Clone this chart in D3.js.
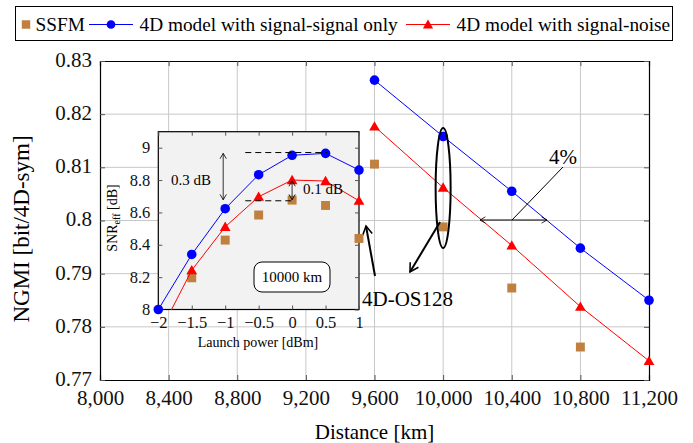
<!DOCTYPE html>
<html>
<head>
<meta charset="utf-8">
<script src="https://cdn.jsdelivr.net/npm/d3@7"></script>
<style>
  body { margin: 0; background: #fff; }
  svg, svg text { font-family: "Liberation Serif", "Times New Roman", Times, serif !important; }
</style>
</head>
<body>
<div class="chart"></div>
<script>
// main chart data: NGMI vs distance
var distances = [9600, 10000, 10400, 10800, 11200];
var ssfmNgmi = [0.8106, 0.7988, 0.7873, 0.7762, null];
var ssNgmi = [0.8264, 0.8158, 0.8055, 0.7948, 0.7850];
var snNgmi = [0.8177, 0.8062, 0.7953, 0.7838, 0.7736];
var xTicks = [8000, 8400, 8800, 9200, 9600, 10000, 10400, 10800, 11200];
var yTicks = [0.77, 0.78, 0.79, 0.80, 0.81, 0.82, 0.83];

// inset data: SNReff vs launch power at 10000 km
var powers = [-2, -1.5, -1, -0.5, 0, 0.5, 1];
var ssfmSnr = [null, 8.196, 8.429, 8.584, 8.676, 8.643, 8.439];
var ssSnr = [8.0, 8.34, 8.623, 8.833, 8.953, 8.965, 8.862];
var snSnr = [7.84, 8.243, 8.511, 8.697, 8.8, 8.794, 8.672];
var insetXTicks = [-2, -1.5, -1, -0.5, 0, 0.5, 1];
var insetYTicks = [8, 8.2, 8.4, 8.6, 8.8, 9];

var W = 693, H = 443;
var BROWN = '#bf8040', BLUE = '#0000ff', RED = '#ff0000';
var SERIF = '"Liberation Serif", "Times New Roman", Times, serif';

var svg = d3.select('.chart').append('svg')
  .attr('width', W).attr('height', H)
  .attr('font-family', SERIF);

var defs = svg.append('defs');
defs.append('clipPath').attr('id', 'mainClip')
  .append('rect').attr('x', 100).attr('y', 61).attr('width', 549).attr('height', 319);
defs.append('clipPath').attr('id', 'insetClip')
  .append('rect').attr('x', 158).attr('y', 131).attr('width', 201).attr('height', 179);
defs.append('marker').attr('id', 'arrowHead')
  .attr('viewBox', '0 0 10 10').attr('refX', 8).attr('refY', 5)
  .attr('markerWidth', 6).attr('markerHeight', 6).attr('orient', 'auto-start-reverse')
  .append('path').attr('d', 'M1,1 L8,5 L1,9').attr('fill', 'none').attr('stroke', '#000').attr('stroke-width', 1.3);
defs.append('marker').attr('id', 'thinHead')
  .attr('viewBox', '0 0 10 10').attr('refX', 8).attr('refY', 5)
  .attr('markerWidth', 9).attr('markerHeight', 9).attr('orient', 'auto-start-reverse')
  .append('path').attr('d', 'M2,1.5 L8,5 L2,8.5').attr('fill', 'none').attr('stroke', '#000').attr('stroke-width', 0.9);

var x = d3.scaleLinear().domain([8000, 11200]).range([100, 649]);
var y = d3.scaleLinear().domain([0.77, 0.83]).range([380, 61]);

// grid
var grid = svg.append('g');
grid.selectAll('.vg').data(xTicks.slice(1, -1)).enter().append('line')
  .attr('x1', d => x(d)).attr('x2', d => x(d)).attr('y1', 61).attr('y2', 380)
  .attr('stroke', '#c8c8c8').attr('stroke-width', 1);
grid.selectAll('.hg').data(yTicks.slice(1, -1)).enter().append('line')
  .attr('y1', d => y(d)).attr('y2', d => y(d)).attr('x1', 100).attr('x2', 649)
  .attr('stroke', '#c8c8c8').attr('stroke-width', 1);

// axes
var fmt = d3.format(',');
var xAxis = svg.append('g').attr('transform', 'translate(0,380)')
  .call(d3.axisBottom(x).tickValues(xTicks).tickFormat(fmt).tickSize(-5).tickPadding(6));
var xAxisTop = svg.append('g').attr('transform', 'translate(0,61)')
  .call(d3.axisTop(x).tickValues(xTicks).tickFormat('').tickSize(-5));
var yAxis = svg.append('g').attr('transform', 'translate(100,0)')
  .call(d3.axisLeft(y).tickValues(yTicks).tickFormat(d => String(+d.toFixed(2))).tickSize(-5).tickPadding(8));
var yAxisR = svg.append('g').attr('transform', 'translate(649,0)')
  .call(d3.axisRight(y).tickValues(yTicks).tickFormat('').tickSize(-5));
[xAxis, xAxisTop, yAxis, yAxisR].forEach(function(a){
  a.attr('font-family', SERIF);
  a.select('.domain').attr('stroke', '#000').attr('stroke-width', 1.2);
  a.selectAll('.tick line').attr('stroke', '#555');
  a.selectAll('text').attr('font-size', 21).attr('fill', '#111');
});
xAxis.selectAll('text').attr('dy', '0.9em');
yAxis.selectAll('text').attr('dy', '0.26em');

svg.append('text').attr('x', 374.5).attr('y', 439).attr('text-anchor', 'middle')
  .attr('font-size', 21).text('Distance [km]');
svg.append('text').attr('transform', 'translate(29,229) rotate(-90)').attr('text-anchor', 'middle')
  .attr('font-size', 23).text('NGMI [bit/4D-sym]');

// markers
function drawSeries(g, xs, ys, sx, sy, color, shape, withLine, clip) {
  var pts = xs.map((d, i) => [d, ys[i]]).filter(p => p[1] != null);
  if (withLine) {
    g.append('path').datum(pts)
      .attr('clip-path', clip)
      .attr('d', d3.line().x(p => sx(p[0])).y(p => sy(p[1])))
      .attr('fill', 'none').attr('stroke', color).attr('stroke-width', 1);
  }
  var sym = d3.symbol().type(shape).size(shape === d3.symbolCircle ? 72 : (shape === d3.symbolTriangle ? 50 : 80));
  g.selectAll(null).data(pts.filter(p => sy(p[1]) <= sy.range()[0] + 0.5)).enter().append('path')
    .attr('d', sym)
    .attr('transform', p => 'translate(' + sx(p[0]) + ',' + (sy(p[1]) + (shape === d3.symbolTriangle ? 1 : 0)) + ')')
    .attr('fill', color);
}

var mainG = svg.append('g');
drawSeries(mainG, distances, ssfmNgmi, x, y, BROWN, d3.symbolSquare, false, 'url(#mainClip)');
drawSeries(mainG, distances, ssNgmi, x, y, BLUE, d3.symbolCircle, true, 'url(#mainClip)');
drawSeries(mainG, distances, snNgmi, x, y, RED, d3.symbolTriangle, true, 'url(#mainClip)');

// main annotations
svg.append('ellipse').attr('cx', x(10000)).attr('cy', 188).attr('rx', 7.5).attr('ry', 60)
  .attr('fill', 'none').attr('stroke', '#000').attr('stroke-width', 2);
svg.append('line').attr('x1', 440).attr('y1', 222).attr('x2', 410).attr('y2', 272)
  .attr('stroke', '#000').attr('stroke-width', 2).attr('marker-end', 'url(#arrowHead)');
svg.append('line').attr('x1', 375).attr('y1', 276).attr('x2', 366).attr('y2', 226)
  .attr('stroke', '#000').attr('stroke-width', 2).attr('marker-end', 'url(#arrowHead)');
svg.append('text').attr('x', 362).attr('y', 306).attr('font-size', 21).text('4D-OS128');

svg.append('line').attr('x1', 480).attr('y1', 220).attr('x2', 547).attr('y2', 220)
  .attr('stroke', '#000').attr('stroke-width', 1)
  .attr('marker-start', 'url(#thinHead)').attr('marker-end', 'url(#thinHead)');
svg.append('line').attr('x1', 512).attr('y1', 220).attr('x2', 563).attr('y2', 167)
  .attr('stroke', '#000').attr('stroke-width', 1);
svg.append('text').attr('x', 563).attr('y', 164).attr('text-anchor', 'middle').attr('font-size', 21).text('4%');

// inset
var ix = d3.scaleLinear().domain([-2, 1]).range([158.3, 359]);
var iy = d3.scaleLinear().domain([8, 9]).range([309.5, 147.7]);
var inset = svg.append('g');
inset.append('rect').attr('x', 158.3).attr('y', 131.7).attr('width', 200.7).attr('height', 177.8)
  .attr('fill', '#f2f2f2').attr('stroke', '#000').attr('stroke-width', 1.2);
var ixAxis = inset.append('g').attr('transform', 'translate(0,309.5)')
  .call(d3.axisBottom(ix).tickValues(insetXTicks).tickSize(-4).tickPadding(5)
    .tickFormat(d => d < 0 ? '\u2212' + Math.abs(d) : String(d)));
var iyAxis = inset.append('g').attr('transform', 'translate(158.3,0)')
  .call(d3.axisLeft(iy).tickValues(insetYTicks).tickSize(-4).tickPadding(8).tickFormat(d => String(+d.toFixed(1))));
var iyAxisR = inset.append('g').attr('transform', 'translate(359,0)')
  .call(d3.axisRight(iy).tickValues(insetYTicks).tickSize(-4).tickFormat(''));
var ixAxisT = inset.append('g').attr('transform', 'translate(0,131.7)')
  .call(d3.axisTop(ix).tickValues(insetXTicks).tickSize(-4).tickFormat(''));
[ixAxis, iyAxis, iyAxisR, ixAxisT].forEach(function(a){
  a.attr('font-family', SERIF);
  a.select('.domain').remove();
  a.selectAll('.tick line').attr('stroke', '#555');
  a.selectAll('text').attr('font-size', 16.5).attr('fill', '#111');
});
ixAxis.selectAll('text').attr('dy', '0.8em');
iyAxis.selectAll('text').attr('dy', '0.3em');

inset.append('text').attr('x', 258).attr('y', 347).attr('text-anchor', 'middle')
  .attr('font-size', 14).text('Launch power [dBm]');
var snrLabel = inset.append('text').attr('transform', 'translate(117,218) rotate(-90)')
  .attr('text-anchor', 'middle').attr('font-size', 14);
snrLabel.append('tspan').text('SNR');
snrLabel.append('tspan').attr('font-size', 10).attr('dy', 3).text('eff');
snrLabel.append('tspan').attr('dy', -3).text(' [dB]');

drawSeries(inset, powers, ssfmSnr, ix, iy, BROWN, d3.symbolSquare, false, 'url(#insetClip)');
drawSeries(inset, powers, ssSnr, ix, iy, BLUE, d3.symbolCircle, true, 'url(#insetClip)');
drawSeries(inset, powers, snSnr, ix, iy, RED, d3.symbolTriangle, true, 'url(#insetClip)');

// inset annotations
inset.append('line').attr('x1', ix(-0.7)).attr('x2', ix(0.52)).attr('y1', iy(8.97)).attr('y2', iy(8.97))
  .attr('stroke', '#000').attr('stroke-dasharray', '6,4').attr('stroke-width', 1);
inset.append('line').attr('x1', ix(-0.7)).attr('x2', ix(0)).attr('y1', iy(8.672)).attr('y2', iy(8.672))
  .attr('stroke', '#000').attr('stroke-dasharray', '6,4').attr('stroke-width', 1);
inset.append('line').attr('x1', ix(-1.03)).attr('x2', ix(-1.03)).attr('y1', iy(8.965)).attr('y2', iy(8.678))
  .attr('stroke', '#333').attr('stroke-width', 1)
  .attr('marker-start', 'url(#thinHead)').attr('marker-end', 'url(#thinHead)');
inset.append('line').attr('x1', ix(0)).attr('x2', ix(0)).attr('y1', iy(8.795)).attr('y2', iy(8.678))
  .attr('stroke', '#333').attr('stroke-width', 1)
  .attr('marker-start', 'url(#thinHead)').attr('marker-end', 'url(#thinHead)');
inset.append('text').attr('x', 191).attr('y', 185).attr('text-anchor', 'middle').attr('font-size', 15).text('0.3 dB');
inset.append('text').attr('x', 303).attr('y', 194).attr('font-size', 15).text('0.1 dB');
inset.append('rect').attr('x', 254).attr('y', 262).attr('width', 76).attr('height', 30).attr('rx', 8)
  .attr('fill', '#fff').attr('stroke', '#000').attr('stroke-width', 1);
inset.append('text').attr('x', 292).attr('y', 282).attr('text-anchor', 'middle').attr('font-size', 15).text('10000 km');

// legend
var legend = svg.append('g');
legend.append('rect').attr('x', 15.5).attr('y', 6.5).attr('width', 657).attr('height', 34)
  .attr('fill', '#fff').attr('stroke', '#000').attr('stroke-width', 1);
var legendItems = [
  {label: 'SSFM', color: BROWN, shape: d3.symbolSquare, line: false, x: 21},
  {label: '4D model with signal-signal only', color: BLUE, shape: d3.symbolCircle, line: true, x: 89},
  {label: '4D model with signal-noise', color: RED, shape: d3.symbolTriangle, line: true, x: 406}
];
legendItems.forEach(function(it){
  var g = legend.append('g').attr('transform', 'translate(' + it.x + ',24.5)');
  var mx = it.line ? 22 : 5;
  if (it.line) g.append('line').attr('x1', 0).attr('x2', 44).attr('stroke', it.color).attr('stroke-width', 1);
  g.append('path').attr('d', d3.symbol().type(it.shape).size(it.shape === d3.symbolCircle ? 60 : (it.shape === d3.symbolTriangle ? 45 : 72)))
    .attr('transform', 'translate(' + mx + ',' + (it.shape === d3.symbolTriangle ? 1 : 0) + ')').attr('fill', it.color);
  g.append('text').attr('x', it.line ? 50.5 : 14.5).attr('y', 6.5).attr('font-size', 19.3).text(it.label);
});
</script>
</body>
</html>
